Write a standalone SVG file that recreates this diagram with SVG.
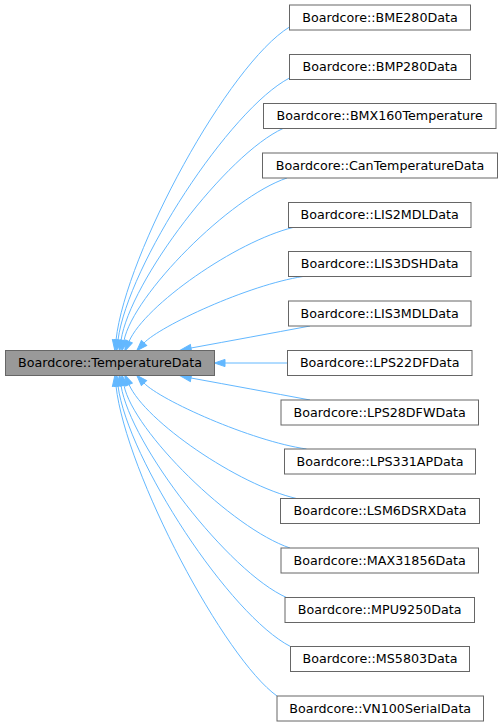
<svg xmlns="http://www.w3.org/2000/svg" width="503" height="727" viewBox="0 0 503 727">
<style>
.node rect{fill:#ffffff;stroke:#666666;stroke-width:1}
.node.root rect{fill:#999999}
.node text{font-family:"DejaVu Sans","Liberation Sans",sans-serif;font-size:12.7px;fill:#000000;text-anchor:middle}
.edges path{fill:none;stroke:#63b8ff;stroke-width:1;marker-start:url(#arr)}
</style>
<defs>
<marker id="arr" markerUnits="userSpaceOnUse" orient="auto-start-reverse" refX="0" refY="0" markerWidth="14" markerHeight="10" viewBox="-1 -5 14 10" overflow="visible">
<path d="M0,-3.6 L10.5,0 L0,3.6 Z" fill="#63b8ff" stroke="#63b8ff" stroke-width="1"/>
</marker>
</defs>
<rect width="503" height="727" fill="#ffffff"/>
<g class="edges" id="edges">
<path d="M116,340 C126,252 229,64 289.5,27"/>
<path d="M118,340 C128,265 230,109 289.5,78"/>
<path d="M121,340.5 C130,281 227,154 283,128.5"/>
<path d="M124,340.5 C133.5,294.5 230,197 287,178"/>
<path d="M129,341.5 C145,305 236,241.5 293,227.5"/>
<path d="M144,343 C160,326 248,285 303,276.5"/>
<path d="M191,348 C232,340.5 270,333.5 310,326"/>
<path d="M225,363 L287.5,363"/>
<path d="M191,378 C232,385.5 270,392.5 310,400"/>
<path d="M144,383 C160,400 251,441 306.5,449"/>
<path d="M129,384.5 C145,421 238,485 296.5,498.5"/>
<path d="M124,385.5 C133.5,431.5 232,528.5 290,548"/>
<path d="M121,385.5 C130.5,445 229,572 286.5,597.5"/>
<path d="M118,386 C128,460 230,615.5 290.5,646.5"/>
<path d="M116,386 C126,474 225,659 277,696"/>
</g>
<g class="node root" id="node_TemperatureData"><rect x="5.5" y="350.5" width="209" height="25"/><text x="110" y="367.3">Boardcore::TemperatureData</text></g>
<g class="node" id="node_BME280Data"><rect x="289.5" y="5" width="181" height="25"/><text x="380" y="21.5">Boardcore::BME280Data</text></g>
<g class="node" id="node_BMP280Data"><rect x="289.5" y="54.5" width="181" height="25"/><text x="380" y="71">Boardcore::BMP280Data</text></g>
<g class="node" id="node_BMX160Temperature"><rect x="263.5" y="103.5" width="232.5" height="25"/><text x="379.7" y="120">Boardcore::BMX160Temperature</text></g>
<g class="node" id="node_CanTemperatureData"><rect x="262.5" y="153" width="235" height="25"/><text x="380" y="169.5">Boardcore::CanTemperatureData</text></g>
<g class="node" id="node_LIS2MDLData"><rect x="288.5" y="202.5" width="182.5" height="25"/><text x="379.7" y="219">Boardcore::LIS2MDLData</text></g>
<g class="node" id="node_LIS3DSHData"><rect x="288.5" y="251.5" width="182.5" height="25"/><text x="379.7" y="268">Boardcore::LIS3DSHData</text></g>
<g class="node" id="node_LIS3MDLData"><rect x="288.5" y="301" width="182.5" height="25"/><text x="379.7" y="317.5">Boardcore::LIS3MDLData</text></g>
<g class="node" id="node_LPS22DFData"><rect x="287.5" y="350.5" width="184.5" height="25"/><text x="379.7" y="367">Boardcore::LPS22DFData</text></g>
<g class="node" id="node_LPS28DFWData"><rect x="281" y="400" width="197.5" height="25"/><text x="379.7" y="416.5">Boardcore::LPS28DFWData</text></g>
<g class="node" id="node_LPS331APData"><rect x="284.5" y="449" width="191" height="25"/><text x="380" y="465.5">Boardcore::LPS331APData</text></g>
<g class="node" id="node_LSM6DSRXData"><rect x="280.5" y="498.5" width="199" height="25"/><text x="380" y="515">Boardcore::LSM6DSRXData</text></g>
<g class="node" id="node_MAX31856Data"><rect x="281" y="548" width="197.5" height="25"/><text x="379.7" y="564.5">Boardcore::MAX31856Data</text></g>
<g class="node" id="node_MPU9250Data"><rect x="285" y="597.5" width="189.5" height="25"/><text x="379.7" y="614">Boardcore::MPU9250Data</text></g>
<g class="node" id="node_MS5803Data"><rect x="290.5" y="646.5" width="179" height="25"/><text x="380" y="663">Boardcore::MS5803Data</text></g>
<g class="node" id="node_VN100SerialData"><rect x="277" y="696" width="206.5" height="25"/><text x="380.2" y="712.5">Boardcore::VN100SerialData</text></g>
</svg>
